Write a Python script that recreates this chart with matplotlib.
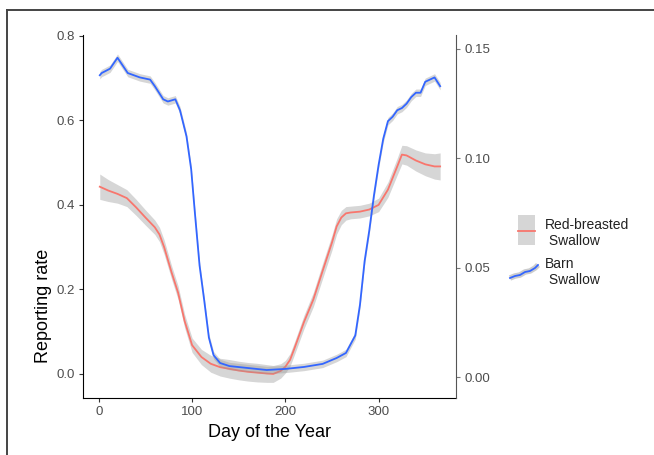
import matplotlib
matplotlib.use("Agg")
import matplotlib.pyplot as plt
from matplotlib.lines import Line2D
from matplotlib.patches import Rectangle
import numpy as np

plt.rcParams['font.family'] = ['Liberation Sans', 'DejaVu Sans']

# Red-breasted Swallow (left axis)
red_day = [1, 10, 20, 30, 40, 50, 60, 65, 70, 78, 85, 92, 100, 110, 120, 130, 140,
           150, 160, 170, 180, 187, 195, 200, 205, 210, 220, 230, 240, 250, 255,
           260, 265, 270, 280, 290, 300, 310, 320, 325, 330, 340, 350, 360, 366]
red_rate = [0.443, 0.434, 0.426, 0.416, 0.394, 0.370, 0.347, 0.330, 0.300, 0.240,
            0.192, 0.125, 0.068, 0.040, 0.024, 0.016, 0.012, 0.008, 0.005, 0.003,
            0.001, 0.000, 0.007, 0.017, 0.033, 0.062, 0.123, 0.176, 0.244, 0.311,
            0.349, 0.370, 0.380, 0.382, 0.384, 0.389, 0.400, 0.436, 0.491, 0.519,
            0.517, 0.505, 0.496, 0.491, 0.491]
red_se = [0.030, 0.026, 0.022, 0.020, 0.019, 0.018, 0.017, 0.017, 0.017, 0.016,
          0.016, 0.016, 0.017, 0.018, 0.020, 0.021, 0.022, 0.022, 0.022, 0.022,
          0.021, 0.020, 0.017, 0.015, 0.015, 0.015, 0.016, 0.017, 0.018, 0.018,
          0.018, 0.017, 0.016, 0.015, 0.015, 0.015, 0.016, 0.018, 0.020, 0.022,
          0.023, 0.025, 0.027, 0.030, 0.032]

# Barn Swallow (right axis)
barn_day = [1, 3, 12, 20, 31, 44, 55, 60, 69, 74, 82, 87, 94, 99, 103, 108, 113,
            118, 123, 130, 140, 160, 180, 200, 220, 240, 255, 265, 270, 275, 280,
            285, 290, 295, 300, 305, 310, 315, 320, 325, 330, 335, 340, 345, 350,
            355, 360, 366]
barn_rate = [0.138, 0.139, 0.141, 0.146, 0.139, 0.137, 0.136, 0.133, 0.127, 0.126,
             0.127, 0.122, 0.110, 0.095, 0.075, 0.051, 0.035, 0.018, 0.010, 0.0064,
             0.0050, 0.0041, 0.0032, 0.0037, 0.0046, 0.0060, 0.0087, 0.011, 0.015,
             0.019, 0.033, 0.053, 0.067, 0.083, 0.097, 0.109, 0.117, 0.119, 0.122,
             0.123, 0.125, 0.128, 0.130, 0.130, 0.135, 0.136, 0.137, 0.133]
barn_se = 0.0017

fig = plt.figure(figsize=(6.54, 4.55), dpi=100)
W, H = 654.0, 455.0

# outer frame of the screenshot
fig.add_artist(Line2D([7 / W, 1.0], [1 - 10 / H, 1 - 10 / H], color='#444444', lw=1.4))
fig.add_artist(Line2D([7 / W, 7 / W], [0.0, 1 - 10 / H], color='#444444', lw=1.4))

ax = fig.add_axes([83 / W, 1 - 398 / H, (456 - 83) / W, (398 - 35) / H])
ax2 = ax.twinx()

rd = np.array(red_rate)
rs = np.array(red_se)
ax.fill_between(red_day, rd - rs, rd + rs, color='#999999', alpha=0.4, lw=0)
ax.plot(red_day, red_rate, color='#F8766D', lw=1.3)

bd = np.array(barn_rate)
ax2.fill_between(barn_day, bd - barn_se, bd + barn_se, color='#999999', alpha=0.4, lw=0)
ax2.plot(barn_day, barn_rate, color='#3366FF', lw=1.3)

ax.set_xlim(-17, 383)
ax.set_ylim(-0.057, 0.802)
ax2.set_ylim(-0.0096, 0.1564)
ax.set_xticks([0, 100, 200, 300])
ax.set_yticks([0.0, 0.2, 0.4, 0.6, 0.8])
ax.set_yticklabels(['0.0', '0.2', '0.4', '0.6', '0.8'])
ax2.set_yticks([0.0, 0.05, 0.10, 0.15])
ax2.set_yticklabels(['0.00', '0.05', '0.10', '0.15'])

for a in (ax, ax2):
    a.spines['top'].set_visible(False)
    a.tick_params(colors='#333333', labelcolor='#4d4d4d', labelsize=9.5,
                  length=3, width=0.8, pad=3)
ax.spines['right'].set_visible(False)
ax.spines['left'].set_color('black')
ax.spines['bottom'].set_color('black')
ax2.spines['left'].set_visible(False)
ax2.spines['bottom'].set_visible(False)
ax2.spines['right'].set_color('#555555')
ax2.tick_params(color='#777777', labelcolor='#4d4d4d')

ax.set_xlabel('Day of the Year', fontsize=13, labelpad=4)
ax.set_ylabel('Reporting rate', fontsize=13)
ax.yaxis.set_label_coords(-0.107, 0.253)
ax.yaxis.label.set_va('center')

# legend drawn by hand to match the two-line labels
fig.add_artist(Rectangle((518 / W, 1 - 245 / H), 17 / W, 30 / H,
                         transform=fig.transFigure, color='#999999', alpha=0.4, lw=0))
fig.add_artist(Line2D([518 / W, 535 / W], [1 - 231 / H, 1 - 231 / H],
                      color='#F8766D', lw=1.3))
kx = np.array([510, 515, 520, 525, 530, 535, 538]) / W
ky = 1 - np.array([278, 276, 275, 272, 271, 268, 265]) / H
fig.add_artist(Line2D(kx, ky, color='#cccccc', lw=4, solid_capstyle='butt'))
fig.add_artist(Line2D(kx, ky, color='#3366FF', lw=1.3))
fig.text(545 / W, 1 - 225 / H, 'Red-breasted', fontsize=10, color='#222222', va='center')
fig.text(545 / W, 1 - 241 / H, ' Swallow', fontsize=10, color='#222222', va='center')
fig.text(545 / W, 1 - 264 / H, 'Barn', fontsize=10, color='#222222', va='center')
fig.text(545 / W, 1 - 280 / H, ' Swallow', fontsize=10, color='#222222', va='center')

fig.savefig('out.png', dpi=100)
